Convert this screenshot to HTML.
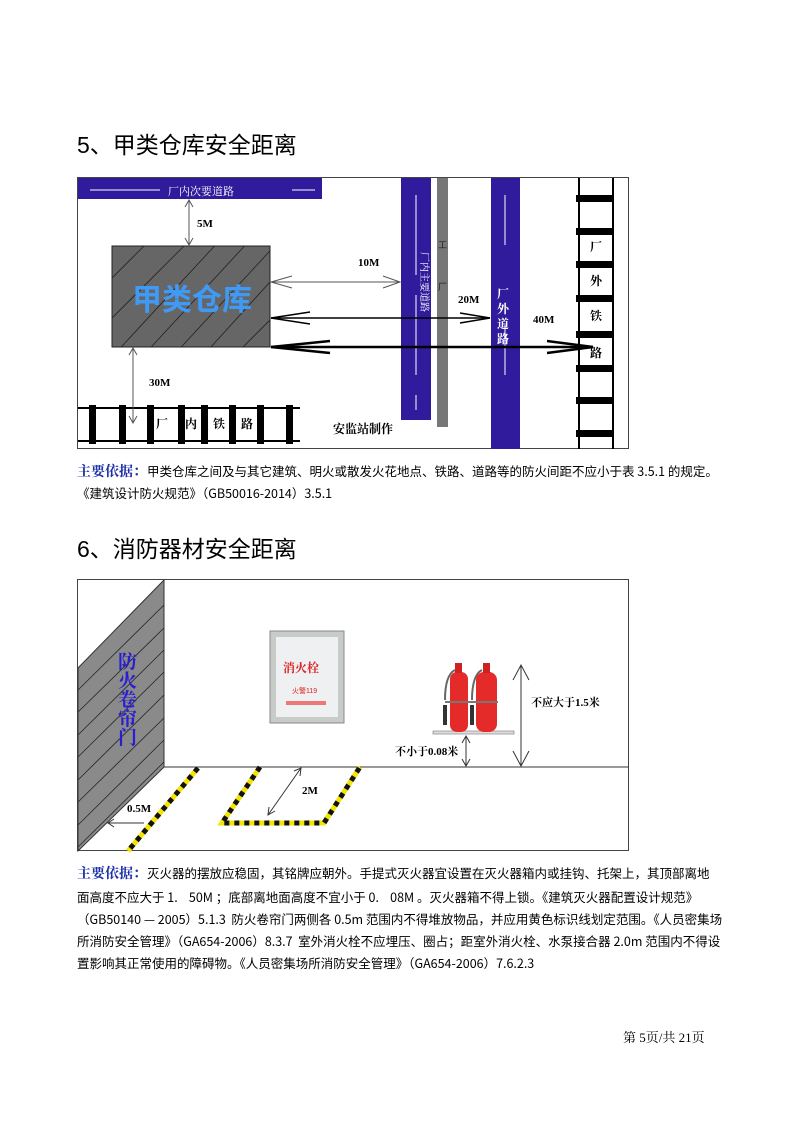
<!DOCTYPE html>
<html><head><meta charset="utf-8">
<style>
body{margin:0;background:#fff;}
#p{position:relative;width:793px;height:1122px;overflow:hidden;font-family:"Liberation Sans","Noto Sans CJK SC",sans-serif;}
.t{position:absolute;white-space:nowrap;color:#000;}
.h{font-size:23px;left:77px;}
.s{font-size:12.5px;font-family:"Noto Sans CJK SC","WenQuanYi Zen Hei",sans-serif;}
.b{color:#1c2fa8;font-weight:bold;font-size:14px;font-family:"Noto Serif CJK SC",serif;}
svg{position:absolute;left:0;top:0;}
</style></head><body><div id="p">
<div class="t h" style="top:126px;">5、甲类仓库安全距离</div>
<div class="t h" style="top:530px;">6、消防器材安全距离</div>

<svg width="793" height="1122" viewBox="0 0 793 1122">
<defs>
<clipPath id="wc"><polygon points="78,668 164,580 164,767 78,851"/></clipPath>
<clipPath id="bc"><rect x="112" y="246" width="158" height="101"/></clipPath>
</defs>
<!-- Diagram 1 -->
<rect x="77.5" y="177.5" width="551" height="271" fill="#fff" stroke="#444" stroke-width="1"/>
<rect x="78" y="178" width="244" height="21" fill="#2f1b9c"/>
<line x1="90" y1="190" x2="160" y2="190" stroke="#fff" stroke-width="1"/>
<line x1="292" y1="190" x2="315" y2="190" stroke="#fff" stroke-width="1"/>
<text x="168" y="195" font-size="11" fill="#fff" font-family="Noto Serif CJK SC,serif">厂内次要道路</text>
<!-- warehouse -->
<rect x="112" y="246" width="158" height="101" fill="#666" stroke="#222" stroke-width="1"/>
<g clip-path="url(#bc)" stroke="#222" stroke-width="0.8">
<line x1="100" y1="290" x2="160" y2="230"/><line x1="100" y1="330" x2="190" y2="240"/>
<line x1="100" y1="370" x2="220" y2="240"/><line x1="130" y1="370" x2="250" y2="240"/>
<line x1="160" y1="370" x2="280" y2="240"/><line x1="190" y1="370" x2="290" y2="260"/>
<line x1="220" y1="370" x2="290" y2="300"/><line x1="250" y1="370" x2="290" y2="330"/>
</g>
<text x="132" y="310" font-size="30" fill="#3e9af5" font-weight="bold" font-family="Noto Sans CJK SC,sans-serif">甲类仓库</text>
<!-- vertical roads -->
<rect x="401" y="178" width="30" height="242" fill="#2f1b9c"/>
<line x1="416" y1="195" x2="416" y2="410" stroke="#fff" stroke-width="1" stroke-dasharray="80,20"/>
<text x="421" y="252" font-size="10" fill="#fff" transform="rotate(90 421 252)" font-family="Noto Serif CJK SC,serif">厂内主要道路</text>
<rect x="437" y="178" width="11" height="249" fill="#777"/>
<text x="438" y="248" font-size="9" fill="#222">工</text>
<text x="438" y="290" font-size="9" fill="#222">厂</text>
<rect x="491" y="178" width="29" height="271" fill="#2f1b9c"/>
<line x1="505" y1="195" x2="505" y2="440" stroke="#fff" stroke-width="1" stroke-dasharray="50,80"/>
<g font-size="12" fill="#fff" font-weight="bold" font-family="Noto Serif CJK SC,serif">
<text x="497" y="298">厂</text><text x="497" y="313">外</text><text x="497" y="328">道</text><text x="497" y="343">路</text></g>
<!-- right railway -->
<line x1="579" y1="178" x2="579" y2="449" stroke="#000" stroke-width="2"/>
<line x1="613" y1="178" x2="613" y2="449" stroke="#000" stroke-width="2"/>
<g fill="#000"><rect x="576" y="195" width="38" height="7"/><rect x="576" y="228" width="38" height="7"/><rect x="576" y="261" width="38" height="7"/><rect x="576" y="295" width="38" height="7"/><rect x="576" y="331" width="38" height="7"/><rect x="576" y="365" width="38" height="7"/><rect x="576" y="397" width="38" height="7"/><rect x="576" y="430" width="38" height="7"/></g>
<g font-size="12" font-weight="bold" font-family="Noto Serif CJK SC,serif">
<text x="590" y="251">厂</text><text x="590" y="285">外</text><text x="590" y="320">铁</text><text x="590" y="357">路</text></g>
<!-- bottom railway -->
<line x1="78" y1="408" x2="300" y2="408" stroke="#000" stroke-width="2"/>
<line x1="78" y1="441" x2="300" y2="441" stroke="#000" stroke-width="2"/>
<g fill="#000"><rect x="89" y="405" width="7" height="39"/><rect x="119" y="405" width="7" height="39"/><rect x="147" y="405" width="7" height="39"/><rect x="178" y="405" width="7" height="39"/><rect x="201" y="405" width="7" height="39"/><rect x="229" y="405" width="7" height="39"/><rect x="257" y="405" width="7" height="39"/><rect x="286" y="405" width="7" height="39"/></g>
<g font-size="12" font-weight="bold" font-family="Noto Serif CJK SC,serif">
<text x="156" y="428">厂</text><text x="185" y="428">内</text><text x="213" y="428">铁</text><text x="241" y="428">路</text>
<text x="333" y="433" font-size="12">安监站制作</text></g>
<!-- arrows -->
<g stroke="#555" stroke-width="1" fill="none">
<line x1="189" y1="200" x2="189" y2="245"/><polyline points="185,207 189,200 193,207"/><polyline points="185,238 189,245 193,238"/>
<line x1="133" y1="348" x2="133" y2="423"/><polyline points="129,355 133,348 137,355"/><polyline points="129,416 133,423 137,416"/>
<line x1="271" y1="282" x2="400" y2="282"/><polyline points="292,276 271,282 292,288"/><polyline points="383,276 400,282 383,288"/>
</g>
<g stroke="#000" fill="none">
<line x1="271" y1="318" x2="490" y2="318" stroke-width="1.5"/><polyline points="310,312 271,318 310,324" stroke-width="1.5"/><polyline points="460,313 490,318 460,323" stroke-width="1.5"/>
<line x1="271" y1="347" x2="593" y2="347" stroke-width="2.5"/><polyline points="330,341 271,347 330,353" stroke-width="2.5"/><polyline points="547,341 593,347 547,353" stroke-width="2.5"/>
</g>
<g font-size="11" font-weight="bold" font-family="Liberation Serif,serif">
<text x="197" y="227">5M</text><text x="358" y="266">10M</text><text x="458" y="303">20M</text><text x="533" y="323">40M</text><text x="149" y="386">30M</text></g>

<!-- Diagram 2 -->
<rect x="77.5" y="579.5" width="551" height="271" fill="#fff" stroke="#444" stroke-width="1"/>
<polygon points="78,668 164,580 164,767 78,851" fill="#8a8a8a" stroke="#333" stroke-width="1"/>
<g clip-path="url(#wc)" stroke="#222" stroke-width="0.8">
<line x1="78" y1="690" x2="164" y2="605"/><line x1="78" y1="712" x2="164" y2="628"/>
<line x1="78" y1="735" x2="164" y2="650"/><line x1="78" y1="757" x2="164" y2="672"/>
<line x1="78" y1="780" x2="164" y2="695"/><line x1="78" y1="802" x2="164" y2="718"/>
<line x1="78" y1="825" x2="164" y2="740"/><line x1="78" y1="847" x2="164" y2="762"/>
</g>
<g font-size="19" fill="#2a1fd0" font-weight="bold" font-family="Noto Serif CJK SC,serif">
<text x="118" y="668">防</text><text x="118" y="687">火</text><text x="118" y="706">卷</text><text x="118" y="725">帘</text><text x="118" y="744">门</text></g>
<line x1="164" y1="767" x2="629" y2="767" stroke="#333" stroke-width="1"/>
<!-- hazard stripes -->
<g fill="none" stroke-width="5">
<path d="M198,768 L128,851" stroke="#f5e400"/>
<path d="M198,768 L128,851" stroke="#111" stroke-dasharray="5,5"/>
<path d="M260,767 L222,823 L324,823 L360,767" stroke="#f5e400"/>
<path d="M260,767 L222,823 L324,823 L360,767" stroke="#111" stroke-dasharray="5,5"/>
</g>
<!-- hydrant box -->
<rect x="270" y="631" width="74" height="92" fill="#c8ccc8" stroke="#888"/>
<rect x="276" y="637" width="62" height="80" fill="#eef0f2"/>
<text x="283" y="672" font-size="12" fill="#d22" font-weight="bold" font-family="Noto Serif CJK SC,serif">消火栓</text>
<text x="292" y="693" font-size="7" fill="#d22">火警119</text>
<rect x="286" y="701" width="40" height="4" fill="#e77"/>
<!-- extinguishers -->
<rect x="433" y="731" width="81" height="3" fill="#ddd" stroke="#777" stroke-width="0.6"/>
<path d="M445,700 Q445,675 455,670" stroke="#666" stroke-width="2" fill="none"/>
<path d="M472,700 Q472,675 482,670" stroke="#666" stroke-width="2" fill="none"/>
<rect x="443" y="705" width="4" height="20" fill="#333"/>
<rect x="470" y="705" width="4" height="20" fill="#333"/>
<rect x="450" y="672" width="18" height="60" rx="7" fill="#e52a2a"/>
<rect x="476" y="672" width="21" height="60" rx="8" fill="#e52a2a"/>
<rect x="455" y="663" width="7" height="10" fill="#c22"/><rect x="483" y="663" width="7" height="10" fill="#c22"/>
<line x1="445" y1="702" x2="498" y2="702" stroke="#777" stroke-width="2"/>
<!-- arrows -->
<g stroke="#333" fill="none" stroke-width="1">
<line x1="521" y1="665" x2="521" y2="766"/><polyline points="513,680 521,665 529,680"/><polyline points="513,751 521,766 529,751"/>
<line x1="466" y1="736" x2="466" y2="766"/><polyline points="462,743 466,736 470,743"/><polyline points="462,759 466,766 470,759"/>
<line x1="301" y1="768" x2="268" y2="815"/><polyline points="294,771 301,768 300,776"/><polyline points="269,807 268,815 275,811"/>
<line x1="108" y1="823" x2="144" y2="823"/><polyline points="114,819 108,823 114,827"/>
</g>
<g font-size="11" font-weight="bold" font-family="Liberation Serif,'Noto Serif CJK SC',serif">
<text x="531" y="706">不应大于1.5米</text><text x="395" y="755">不小于0.08米</text><text x="302" y="794">2M</text><text x="127" y="812">0.5M</text></g>
</svg>

<div class="t s" style="left:77px;top:461px;"><span class="b">主要依据：</span>甲类仓库之间及与其它建筑、明火或散发火花地点、铁路、道路等的防火间距不应小于表 3.5.1 的规定。</div>
<div class="t s" style="left:77px;top:483px;">《建筑设计防火规范》（GB50016-2014）3.5.1</div>

<div class="t s" style="left:77px;top:863px;"><span class="b">主要依据：</span>灭火器的摆放应稳固，其铭牌应朝外。手提式灭火器宜设置在灭火器箱内或挂钩、托架上，其顶部离地</div>
<div class="t s" style="left:77px;top:887px;">面高度不应大于 1.&nbsp;&nbsp;&nbsp;&nbsp;50M ；底部离地面高度不宜小于 0.&nbsp;&nbsp;&nbsp;&nbsp;08M 。灭火器箱不得上锁。《建筑灭火器配置设计规范》</div>
<div class="t s" style="left:77px;top:909px;">（GB50140 — 2005）5.1.3&nbsp; 防火卷帘门两侧各 0.5m 范围内不得堆放物品，并应用黄色标识线划定范围。《人员密集场</div>
<div class="t s" style="left:77px;top:931px;">所消防安全管理》（GA654-2006）8.3.7&nbsp; 室外消火栓不应埋压、圈占；距室外消火栓、水泵接合器 2.0m 范围内不得设</div>
<div class="t s" style="left:77px;top:953px;">置影响其正常使用的障碍物。《人员密集场所消防安全管理》（GA654-2006）7.6.2.3</div>

<div class="t" style="left:623px;top:1027px;font-size:13px;font-family:'Liberation Serif','Noto Serif CJK SC',serif;">第 5页/共 21页</div>
</div></body></html>
